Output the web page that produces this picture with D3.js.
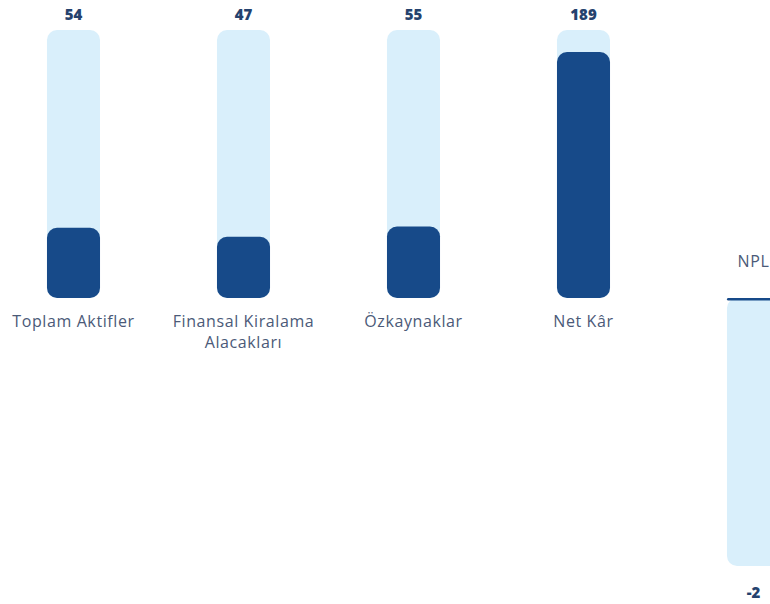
<!DOCTYPE html>
<html>
<head>
<meta charset="utf-8">
<script src="https://cdn.jsdelivr.net/npm/d3@7"></script>
<style>
  html, body { margin: 0; padding: 0; background: #ffffff; }
  svg { display: block; }
</style>
</head>
<body>
<svg id="chart" width="770" height="604"></svg>
<script>
const categories = ["Toplam Aktifler", "Finansal Kiralama\nAlacakları", "Özkaynaklar", "Net Kâr", "NPL"];
const values = [54, 47, 55, 189, -2];
const valueLabels = ["54", "47", "55", "189", "-2"];
const scaleMax = 206;

const svg = d3.select("#chart");
const lightColor = "#d9effb";
const darkColor = "#174a89";
const valueColor = "#25426e";
const labelColor = "#4b5a78";

const x = d3.scaleBand()
  .domain(categories)
  .range([-11.5, 838.5])
  .paddingInner(0.688)
  .paddingOuter(0.344);

const y = d3.scaleLinear()
  .domain([-scaleMax, scaleMax])
  .range([566, 30]);

const bw = x.bandwidth();
const r = 10;

const g = svg.append("g");

const data = categories.map((c, i) => ({ c, v: values[i], label: valueLabels[i] }));

// background tracks
g.selectAll("rect.track")
  .data(data)
  .join("rect")
  .attr("class", "track")
  .attr("x", d => x(d.c))
  .attr("width", bw)
  .attr("y", d => d.v >= 0 ? y(scaleMax) : y(0))
  .attr("height", d => d.v >= 0 ? y(0) - y(scaleMax) : y(-scaleMax) - y(0))
  .attr("rx", r)
  .attr("fill", lightColor);

// value bars
g.selectAll("rect.bar")
  .data(data)
  .join("rect")
  .attr("class", "bar")
  .attr("x", d => x(d.c))
  .attr("width", bw)
  .attr("y", d => d.v >= 0 ? y(d.v) : y(0))
  .attr("height", d => Math.abs(y(d.v) - y(0)))
  .attr("rx", d => Math.min(r, Math.abs(y(d.v) - y(0)) / 2))
  .attr("fill", darkColor);

// value labels
g.selectAll("text.val")
  .data(data)
  .join("text")
  .attr("class", "val")
  .attr("x", d => x(d.c) + bw / 2)
  .attr("y", d => d.v >= 0 ? y(scaleMax) - 10 : y(-scaleMax) + 32)
  .attr("text-anchor", "middle")
  .attr("font-family", "'Open Sans', sans-serif")
  .attr("font-weight", 800)
  .attr("font-size", 15)
  .attr("fill", valueColor)
  .text(d => d.label);

// category labels
const cl = g.selectAll("text.cat")
  .data(data)
  .join("text")
  .attr("class", "cat")
  .attr("x", d => x(d.c) + bw / 2)
  .attr("y", d => d.v >= 0 ? y(0) + 29 : y(0) - 31)
  .attr("text-anchor", "middle")
  .attr("font-family", "'Open Sans', sans-serif")
  .attr("font-size", 16)
  .attr("letter-spacing", 0.6)
  .attr("fill", labelColor);

cl.each(function(d) {
  const lines = d.c.split("\n");
  const t = d3.select(this);
  lines.forEach((ln, i) => {
    t.append("tspan")
      .attr("x", x(d.c) + bw / 2)
      .attr("dy", i === 0 ? 0 : 21)
      .text(ln);
  });
});
</script>
</body>
</html>
